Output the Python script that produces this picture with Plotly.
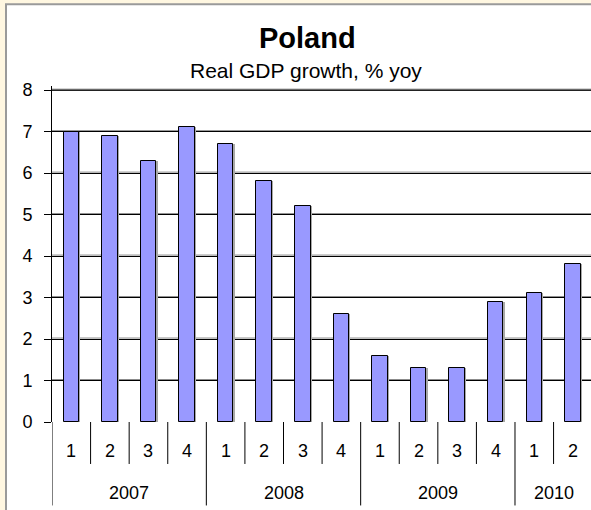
import plotly.graph_objects as go

# Real GDP growth, % y/y, by quarter
years = ["2007", "2008", "2009", "2010"]
quarters_per_year = [4, 4, 4, 2]
quarter_labels = ["1", "2", "3", "4", "1", "2", "3", "4",
                  "1", "2", "3", "4", "1", "2"]
gdp_growth = [7.0, 6.9, 6.3, 7.1, 6.7, 5.8, 5.2, 2.6,
              1.6, 1.3, 1.3, 2.9, 3.1, 3.8]
y_ticks = [0, 1, 2, 3, 4, 5, 6, 7, 8]

W, H = 591, 510
# headroom above the top tick so its gridline sits well inside the plot
Y_TOP = 8.1
X_RANGE = [-0.5, 13.47]
UNIT_PX = 41.5
ML, MR, MB = 52, 0, 88
MT = H - MB - Y_TOP * UNIT_PX
PW, PH = W - ML - MR, H - MT - MB
FONT = "Arial, Liberation Sans, sans-serif"


def px_x(px):
    return (px - ML) / PW


def px_y(py):
    return (H - MB - py) / PH


x_idx = list(range(len(gdp_growth)))

fig = go.Figure()

# gridline along the top tick, drawn as a plain line trace
fig.add_trace(go.Scatter(
    x=X_RANGE, y=[y_ticks[-1], y_ticks[-1]], mode="lines",
    line=dict(color="#222222", width=1.5),
    hoverinfo="skip", showlegend=False,
))
# soft drop shadow behind each bar
fig.add_trace(go.Bar(
    x=x_idx, y=gdp_growth, width=0.4, offset=-0.2 + 0.035,
    marker=dict(color="#a8a8a8", line=dict(width=0)),
    hoverinfo="skip", showlegend=False,
))
fig.add_trace(go.Bar(
    x=x_idx, y=gdp_growth, width=0.4, offset=-0.2,
    marker=dict(color="#9999FF", line=dict(color="black", width=1)),
    showlegend=False,
))

shapes = []
# white chart panel with grey frame on a cream page
shapes.append(dict(
    type="rect", xref="paper", yref="paper", layer="below",
    x0=px_x(6), x1=px_x(W + 20), y0=px_y(H + 20), y1=px_y(4),
    fillcolor="white", line=dict(color="#9a9a9a", width=2),
))
# grey shadow just above each gridline
for v in y_ticks[1:]:
    shapes.append(dict(
        type="line", xref="paper", yref="y", ysizemode="pixel", yanchor=v,
        x0=0, x1=1, y0=1, y1=1, layer="below",
        line=dict(color="#8a8a8a", width=1),
    ))

# category separators: short between quarters, long between years
boundaries = []
pos = 0
for n in quarters_per_year:
    boundaries.append(pos)
    pos += n
boundaries.append(pos)
for i in range(len(gdp_growth) + 1):
    is_year = i in boundaries
    shapes.append(dict(
        type="line", xref="x", yref="paper",
        x0=i - 0.5, x1=i - 0.5, y0=0,
        y1=px_y(505.5) if is_year else px_y(464),
        line=dict(color="black", width=1),
    ))

annotations = []
for i, q in zip(x_idx, quarter_labels):
    annotations.append(dict(
        x=i, y=px_y(451.5), xref="x", yref="paper", text=q,
        showarrow=False, font=dict(family=FONT, size=18, color="black"),
        xanchor="center", yanchor="middle",
    ))
for k, yr in enumerate(years):
    centre = (boundaries[k] + boundaries[k + 1] - 1) / 2
    annotations.append(dict(
        x=centre, y=px_y(493), xref="x", yref="paper", text=yr,
        showarrow=False, font=dict(family=FONT, size=18, color="black"),
        xanchor="center", yanchor="middle",
    ))
annotations.append(dict(
    x=px_x(307), y=px_y(38), xref="paper", yref="paper",
    text="<b>Poland</b>", showarrow=False,
    font=dict(family=FONT, size=29, color="black"),
    xanchor="center", yanchor="middle",
))
annotations.append(dict(
    x=px_x(305.5), y=px_y(70), xref="paper", yref="paper",
    text="Real GDP growth, % yoy", showarrow=False,
    font=dict(family=FONT, size=21, color="black"),
    xanchor="center", yanchor="middle",
))

fig.update_layout(
    width=W, height=H,
    margin=dict(l=ML, r=MR, t=MT, b=MB, pad=0, autoexpand=False),
    paper_bgcolor="#FFF7E1",
    plot_bgcolor="rgba(0,0,0,0)",
    barmode="overlay",
    bargap=0,
    shapes=shapes,
    annotations=annotations,
    font=dict(family=FONT, size=18, color="black"),
    xaxis=dict(
        range=X_RANGE, showticklabels=False, showgrid=False,
        zeroline=False, showline=False, ticks="", fixedrange=True,
    ),
    yaxis=dict(
        range=[0, Y_TOP], tickvals=y_ticks,
        ticktext=[str(v) for v in y_ticks],
        showgrid=True, gridcolor="black", gridwidth=1,
        zeroline=False, showline=True, linecolor="black", linewidth=1,
        ticks="outside", ticklen=7, tickcolor="black", tickwidth=1,
        ticklabelstandoff=8,
        tickfont=dict(family=FONT, size=18, color="black"),
        fixedrange=True,
    ),
)

fig.write_html("out.html")
